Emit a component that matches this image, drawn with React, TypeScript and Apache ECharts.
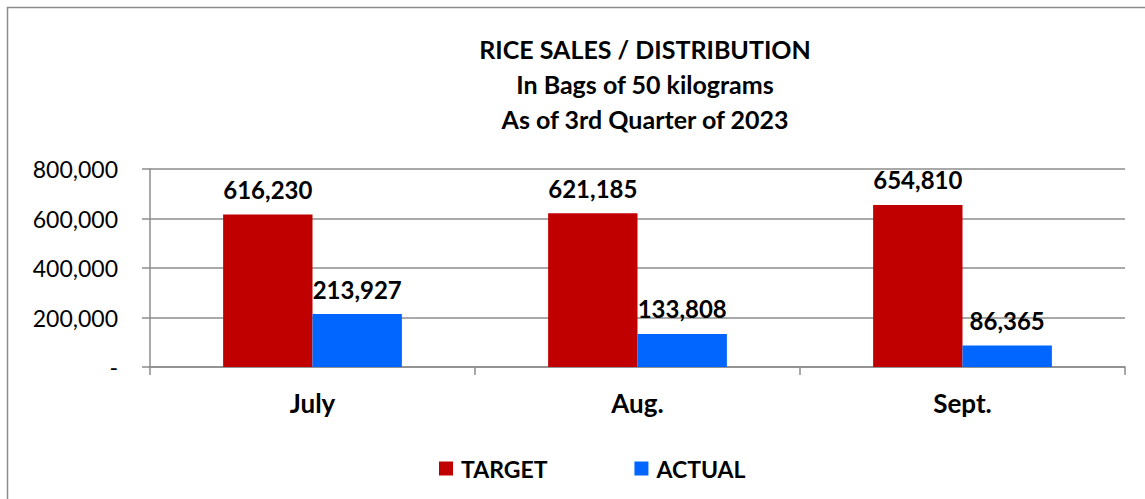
import React, { useEffect, useRef } from "react";
import * as echarts from "echarts";

const categories = ["July", "Aug.", "Sept."];
const targetValues = [616230, 621185, 654810];
const actualValues = [213927, 133808, 86365];
const titleLines = ["RICE SALES / DISTRIBUTION", "In Bags of 50 kilograms", "As of 3rd Quarter of 2023"];
const seriesNames = ["TARGET", "ACTUAL"];

const FONT = "Lato, 'Open Sans', sans-serif";

export default function App() {
  const ref = useRef<HTMLDivElement>(null);
  useEffect(() => {
    if (!ref.current) return;
    const chart = echarts.init(ref.current, null, { renderer: "svg" });
    const fmt = (v: number) => (v === 0 ? "-" : v.toLocaleString("en-US"));
    const dataLabel = {
      show: true,
      position: "top",
      distance: 13,
      fontFamily: FONT,
      fontSize: 24,
      fontWeight: "bold",
      color: "#000",
      formatter: (p: any) => fmt(p.value),
    };
    chart.setOption({
      animation: false,
      backgroundColor: "#ffffff",
      textStyle: { fontFamily: FONT },
      title: {
        text: titleLines.join("\n"),
        left: 640,
        top: 26,
        textAlign: "center",
        textStyle: { fontFamily: FONT, fontSize: 25, fontWeight: "bold", color: "#000", lineHeight: 35 },
      },
      graphic: [
        {
          type: "rect",
          shape: { x: 7.5, y: 7.5, width: 1200, height: 600 },
          style: { fill: "none", stroke: "#8c8c8c", lineWidth: 1.5 },
          silent: true,
        },
      ],
      legend: {
        data: seriesNames,
        left: 439,
        top: 457,
        padding: 0,
        itemWidth: 14,
        itemHeight: 14,
        itemGap: 87,
        icon: "rect",
        textStyle: { fontFamily: FONT, fontSize: 23, fontWeight: "bold", color: "#000", padding: [0, 0, 0, 3] },
      },
      grid: { left: 150, right: 20, top: 169, bottom: 132 },
      xAxis: {
        type: "category",
        data: categories,
        axisLine: { lineStyle: { color: "#8c8c8c", width: 1.5 } },
        axisTick: { show: true, length: 8, lineStyle: { color: "#8c8c8c", width: 1.5 } },
        axisLabel: { fontFamily: FONT, fontSize: 26, fontWeight: "bold", color: "#000", margin: 23 },
      },
      yAxis: {
        type: "value",
        min: 0,
        max: 800000,
        interval: 200000,
        axisLine: { show: true, lineStyle: { color: "#8c8c8c", width: 1.5 } },
        axisTick: { show: true, length: 8, lineStyle: { color: "#8c8c8c", width: 1.5 } },
        splitLine: { lineStyle: { color: "#8c8c8c", width: 1.5 } },
        axisLabel: { fontFamily: FONT, fontSize: 23, color: "#000", margin: 32, formatter: fmt },
      },
      series: [
        {
          name: seriesNames[0],
          type: "bar",
          data: targetValues,
          barGap: "0%",
          barCategoryGap: "45%",
          itemStyle: { color: "#C00000" },
          label: dataLabel,
        },
        {
          name: seriesNames[1],
          type: "bar",
          data: actualValues,
          itemStyle: { color: "#0066FF" },
          label: dataLabel,
        },
      ],
    });
    return () => chart.dispose();
  }, []);
  return (
    <div
      ref={ref}
      style={{ position: "fixed", left: 0, top: 0, width: 1145, height: 499 }}
    />
  );
}
